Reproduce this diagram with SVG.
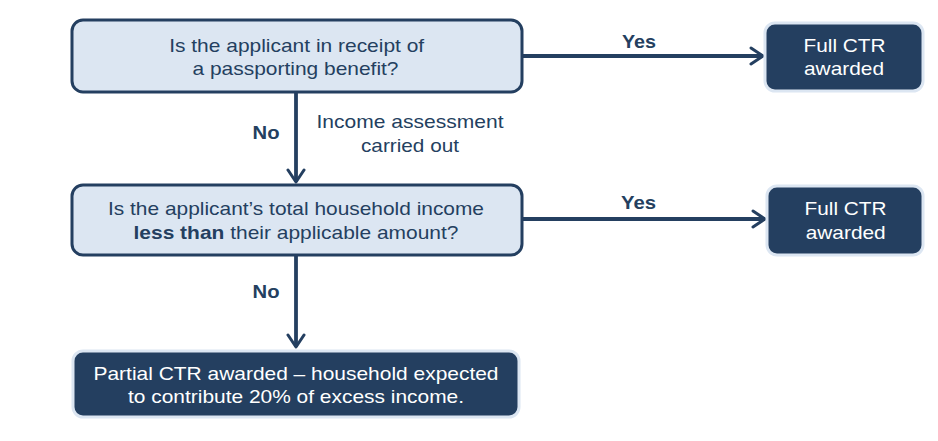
<svg xmlns="http://www.w3.org/2000/svg" width="938" height="441" viewBox="0 0 938 441">
<defs>
<marker id="arr" viewBox="0 0 16 20" refX="14" refY="10" markerWidth="16" markerHeight="20" markerUnits="userSpaceOnUse" orient="auto">
<path d="M2,2 L14,10 L2,18" fill="none" stroke="#243f60" stroke-width="3" stroke-linecap="round" stroke-linejoin="round"/>
</marker>
<style>
text{font-family:"Liberation Sans",Arial,sans-serif;}
.q{fill:#dce6f2;stroke:#243f60;stroke-width:3;}
.r{fill:#243f60;stroke:#dce6f2;stroke-width:3;}
.qt{fill:#243f60;font-size:19px;text-anchor:middle;}
.rt{fill:#ffffff;font-size:19px;text-anchor:middle;}
.lb{fill:#243f60;font-size:19px;font-weight:bold;text-anchor:middle;}
.ln{fill:#243f60;font-size:19px;text-anchor:middle;}
.c{stroke:#243f60;stroke-width:3.8;fill:none;marker-end:url(#arr);}
</style>
</defs>
<rect width="938" height="441" fill="#ffffff"/>
<g id="connectors">
<line class="c" x1="522" y1="56" x2="763" y2="56"/>
<line class="c" x1="296" y1="92" x2="296" y2="182"/>
<line class="c" x1="522" y1="219" x2="765" y2="219"/>
<line class="c" x1="296" y1="255" x2="296" y2="347"/>
<text class="lb" x="639" y="48" textLength="34" lengthAdjust="spacingAndGlyphs">Yes</text>
<text class="lb" x="638.5" y="209" textLength="35" lengthAdjust="spacingAndGlyphs">Yes</text>
<text class="lb" x="266" y="139" textLength="27" lengthAdjust="spacingAndGlyphs">No</text>
<text class="lb" x="266" y="298" textLength="27" lengthAdjust="spacingAndGlyphs">No</text>
<text class="ln" x="410" y="128" textLength="187" lengthAdjust="spacingAndGlyphs">Income assessment</text>
<text class="ln" x="410" y="152" textLength="98" lengthAdjust="spacingAndGlyphs">carried out</text>
</g>
<g id="q1">
<rect class="q" x="72" y="20" width="450" height="72" rx="11"/>
<text class="qt" x="296.7" y="52" textLength="255" lengthAdjust="spacingAndGlyphs">Is the applicant in receipt of</text>
<text class="qt" x="295.5" y="75" textLength="206" lengthAdjust="spacingAndGlyphs">a passporting benefit?</text>
</g>
<g id="full1">
<rect class="r" x="765" y="23" width="158" height="68" rx="10"/>
<text class="rt" x="844.5" y="52" textLength="82" lengthAdjust="spacingAndGlyphs">Full CTR</text>
<text class="rt" x="844" y="75" textLength="80" lengthAdjust="spacingAndGlyphs">awarded</text>
</g>
<g id="q2">
<rect class="q" x="72" y="185" width="450" height="70" rx="11"/>
<text class="qt" x="296" y="215" textLength="376" lengthAdjust="spacingAndGlyphs">Is the applicant’s total household income</text>
<text class="qt" x="296" y="239" textLength="325" lengthAdjust="spacingAndGlyphs"><tspan font-weight="bold">less than</tspan> their applicable amount?</text>
</g>
<g id="full2">
<rect class="r" x="767" y="186" width="156" height="69" rx="10"/>
<text class="rt" x="845.5" y="215" textLength="82" lengthAdjust="spacingAndGlyphs">Full CTR</text>
<text class="rt" x="845.7" y="239" textLength="80" lengthAdjust="spacingAndGlyphs">awarded</text>
</g>
<g id="partial">
<rect class="r" x="73" y="351" width="446" height="66" rx="10"/>
<text class="rt" x="296" y="380" textLength="405" lengthAdjust="spacingAndGlyphs">Partial CTR awarded – household expected</text>
<text class="rt" x="296" y="403" textLength="336" lengthAdjust="spacingAndGlyphs">to contribute 20% of excess income.</text>
</g>
</svg>
